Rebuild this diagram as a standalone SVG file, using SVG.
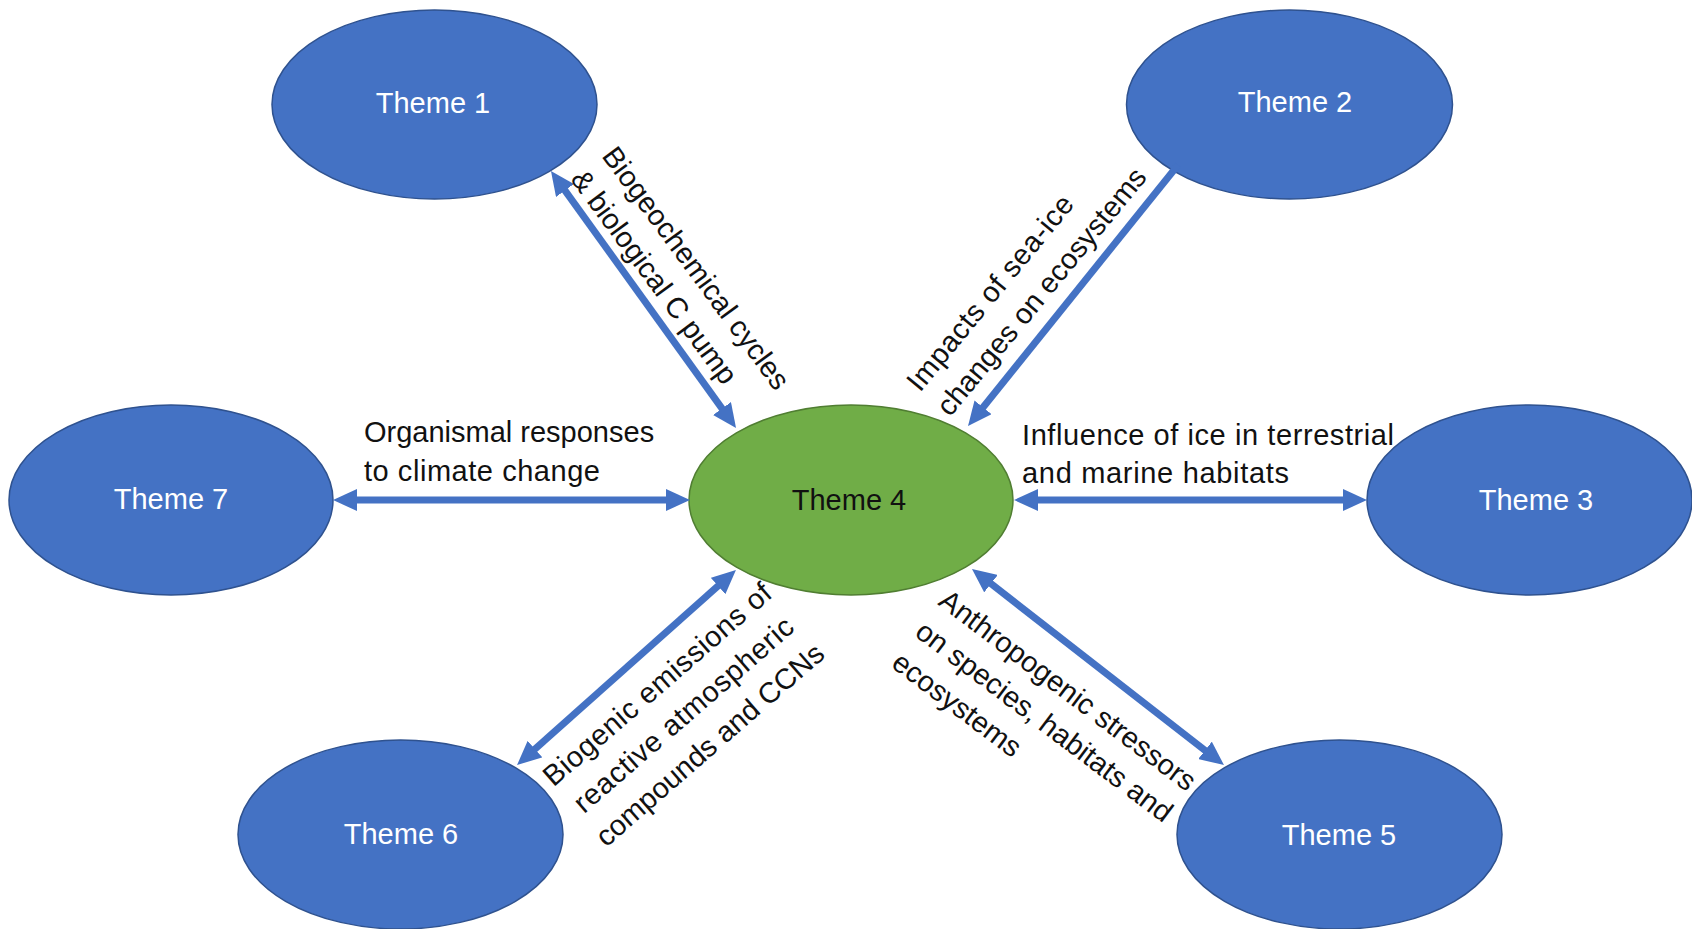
<svg xmlns="http://www.w3.org/2000/svg" width="1692" height="929" viewBox="0 0 1692 929">
<style>
  .blue { fill: #4472C4; stroke: #2F528F; stroke-width: 1.5; }
  .green { fill: #70AD47; stroke: #507E32; stroke-width: 1.5; }
  .tl { font-family: "Liberation Sans", Arial, sans-serif; font-size: 29px; text-anchor: middle; }
  .tw { fill: #FFFFFF; }
  .tb { fill: #111111; }
  .lbl { font-family: "Liberation Sans", Arial, sans-serif; font-size: 29px; fill: #111111; }
  .conn { stroke: #4472C4; stroke-width: 7; fill: none; }
</style>
<defs>
  <marker id="ah" markerUnits="userSpaceOnUse" markerWidth="24" markerHeight="22" refX="14" refY="11" orient="auto-start-reverse" viewBox="0 0 24 22">
    <path d="M0,0 L24,11 L0,22 z" fill="#4472C4"/>
  </marker>
</defs>
<rect x="0" y="0" width="1692" height="929" fill="#FFFFFF"/>

<g id="theme1"><ellipse class="blue" cx="434.5" cy="104.5" rx="162.5" ry="94.5"/><text class="tl tw" x="433" y="113">Theme 1</text></g>
<g id="theme2"><ellipse class="blue" cx="1289.5" cy="104.5" rx="163" ry="94.5"/><text class="tl tw" x="1295" y="112">Theme 2</text></g>
<g id="theme7"><ellipse class="blue" cx="171" cy="500" rx="162" ry="95"/><text class="tl tw" x="171" y="509">Theme 7</text></g>
<g id="theme4"><ellipse class="green" cx="851" cy="500" rx="162" ry="95"/><text class="tl tb" x="849" y="510">Theme 4</text></g>
<g id="theme3"><ellipse class="blue" cx="1529.5" cy="500" rx="162.5" ry="95"/><text class="tl tw" x="1536" y="510">Theme 3</text></g>
<g id="theme6"><ellipse class="blue" cx="400.5" cy="834.5" rx="162.5" ry="94.5"/><text class="tl tw" x="401" y="844">Theme 6</text></g>
<g id="theme5"><ellipse class="blue" cx="1339.5" cy="834.5" rx="162.5" ry="94.5"/><text class="tl tw" x="1339" y="845">Theme 5</text></g>

<g id="connectors">
  <path class="conn" d="M556.8,179.1 L730.2,419.9" marker-start="url(#ah)" marker-end="url(#ah)"/>
  <path class="conn" d="M1178,165 L974.3,418.2" marker-end="url(#ah)"/>
  <path class="conn" d="M343,500 L680,500" marker-start="url(#ah)" marker-end="url(#ah)"/>
  <path class="conn" d="M1024,500 L1357,500" marker-start="url(#ah)" marker-end="url(#ah)"/>
  <path class="conn" d="M728.5,576.7 L524.5,758.4" marker-start="url(#ah)" marker-end="url(#ah)"/>
  <path class="conn" d="M979.9,575.1 L1216.1,758.9" marker-start="url(#ah)" marker-end="url(#ah)"/>
</g>

<g id="labels">
  <text class="lbl" transform="translate(601,156) rotate(53.5)"><tspan x="0" y="0">Biogeochemical cycles</tspan><tspan x="0" y="39">&amp; biological C pump</tspan></text>
  <text class="lbl" transform="translate(920,393) rotate(-50.5)"><tspan x="0" y="0" textLength="244" lengthAdjust="spacing">Impacts of sea-ice</tspan><tspan x="0" y="39">changes on ecosystems</tspan></text>
  <text class="lbl"><tspan x="364" y="442">Organismal responses</tspan><tspan x="364" y="481" textLength="236" lengthAdjust="spacing">to climate change</tspan></text>
  <text class="lbl"><tspan x="1022" y="445" textLength="372" lengthAdjust="spacing">Influence of ice in terrestrial</tspan><tspan x="1022" y="483" textLength="267" lengthAdjust="spacing">and marine habitats</tspan></text>
  <text class="lbl" text-anchor="middle" transform="translate(690,722) rotate(-41)"><tspan x="0" y="-40" textLength="292" lengthAdjust="spacing">Biogenic emissions of</tspan><tspan x="0" y="0" textLength="281" lengthAdjust="spacing">reactive atmospheric</tspan><tspan x="0" y="40">compounds and CCNs</tspan></text>
  <text class="lbl" transform="translate(937,604) rotate(37)"><tspan x="0" y="0">Anthropogenic stressors</tspan><tspan x="0" y="39">on species, habitats and</tspan><tspan x="0" y="78">ecosystems</tspan></text>
</g>
</svg>
